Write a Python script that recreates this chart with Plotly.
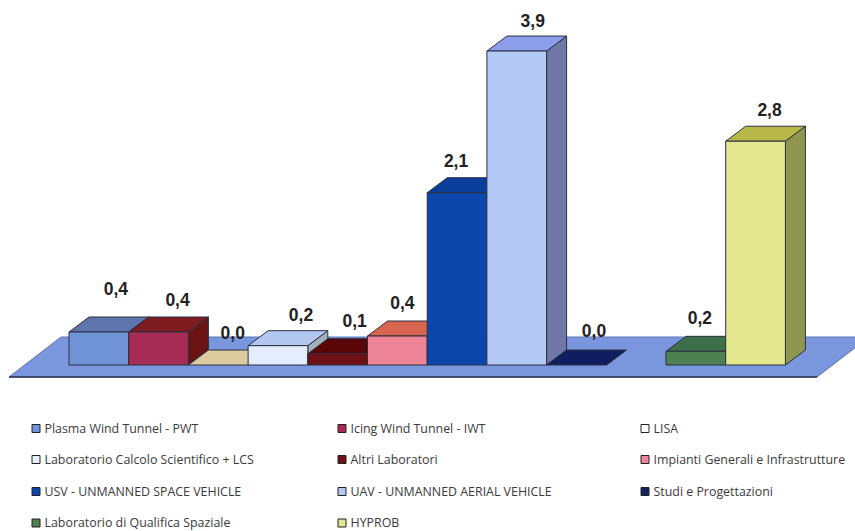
import plotly.graph_objects as go

# ---- data ----
categories = ["Plasma Wind Tunnel - PWT", "Icing Wind Tunnel - IWT", "LISA",
              "Laboratorio Calcolo Scientifico + LCS", "Altri Laboratori",
              "Impianti Generali e Infrastrutture", "USV - UNMANNED SPACE VEHICLE",
              "UAV - UNMANNED AERIAL VEHICLE", "Studi e Progettazioni",
              "Laboratorio di Qualifica Spaziale", "HYPROB"]
values = [0.41, 0.41, 0.0, 0.24, 0.14, 0.36, 2.14, 3.9, 0.0, 0.17, 2.78]
slots = [0, 1, 2, 3, 4, 5, 6, 7, 8, 10, 11]

# ---- styles ----
front_colors = ["#6F93D6", "#A62C55", "#E3D3A6", "#E3EDFB", "#700F16", "#EE8498",
                "#0B47AB", "#B5C9F6", "#14225F", "#4F8052", "#E3E88F"]
top_colors = ["#5F74AC", "#7E1B1E", "#DCCB9E", "#B2C6F0", "#5A0508", "#D8654F",
              "#0A3E9A", "#8C9EEA", "#101E60", "#3F6E4A", "#B8B848"]
side_colors = ["#4C5C88", "#6B1414", "#BDAE87", "#A0B2B8", "#4A0406", "#B5523F",
               "#083380", "#7078A8", "#0C174A", "#345A3C", "#8F9650"]
label_dx = [17, 19, 14.5, 23, 17, 5, -1, 16, 17.5, 4, 14]
label_dy = [41, 30, 30, 29, 31, 31, 30, 28, 32, 32, 30]
EDGE = "#2B3040"

# scale: data units <-> figure pixels
W, H = 855, 531
SLOT_PX, UNIT_PX = 59.7, 80.5
X0_PX, Y0_PX = 69, 365
DX, DY = 20 / SLOT_PX, 15 / UNIT_PX
px = lambda p: p / SLOT_PX
py = lambda p: p / UNIT_PX
x_range = [-X0_PX / SLOT_PX, (W - X0_PX) / SLOT_PX]
y_range = [-(H - Y0_PX) / UNIT_PX, Y0_PX / UNIT_PX]


def poly(fig, xs, ys, fill, line=EDGE, width=1):
    fig.add_trace(go.Scatter(x=xs + xs[:1], y=ys + ys[:1], mode="lines", fill="toself",
                             fillcolor=fill, line=dict(color=line, width=width),
                             hoverinfo="skip", showlegend=False))


fig = go.Figure()

# floor
floor_l, floor_r = px(9 - X0_PX), px(817 - X0_PX)
floor_y = py(-12)
floor_back = py(28)
poly(fig, [floor_l, floor_r, floor_r + px(52), floor_l + px(52)],
     [floor_y, floor_y, floor_back, floor_back], "#7A96DC", line="#5C74B4")
fig.add_trace(go.Scatter(x=[floor_l, floor_r], y=[floor_y, floor_y], mode="lines",
                         line=dict(color="#2B3550", width=1.6), hoverinfo="skip", showlegend=False))

# bars, painted left to right
for s, v, fc, tc, sc in zip(slots, values, front_colors, top_colors, side_colors):
    poly(fig, [s + 1, s + 1 + DX, s + 1 + DX, s + 1], [0, DY, v + DY, v], sc)
    poly(fig, [s, s + 1, s + 1 + DX, s + DX], [v, v, v + DY, v + DY], tc)
    if v > 0:
        poly(fig, [s, s + 1, s + 1, s], [0, 0, v, v], fc)

# value labels
fig.add_trace(go.Scatter(
    x=[s + 0.5 + px(d) for s, d in zip(slots, label_dx)],
    y=[v + py(d) for v, d in zip(values, label_dy)],
    mode="text", text=[f"{v:.1f}".replace(".", ",") for v in values],
    textposition="middle center",
    textfont=dict(family="Liberation Sans", size=17.5, color="#222222", weight=700),
    hoverinfo="skip", showlegend=False))

# legend, three columns by four rows
col_px = [36, 342, 645]
row_px = [428.5, 459.5, 491.5, 523]
for i, (name, fc) in enumerate(zip(categories, front_colors)):
    color = "#FFFFFF" if name == "LISA" else fc
    lx, ly = px(col_px[i % 3] - X0_PX), py(Y0_PX - row_px[i // 3])
    fig.add_trace(go.Scatter(
        x=[lx], y=[ly], mode="markers",
        marker=dict(symbol="square", size=8, color=color, line=dict(color="#222222", width=1)),
        hoverinfo="skip", showlegend=False, cliponaxis=False))
    fig.add_trace(go.Scatter(
        x=[lx + px(8.5)], y=[ly - py(1)], mode="text", text=[name], textposition="middle right",
        textfont=dict(family="Open Sans", size=12.4, color="#3A3A3A"),
        hoverinfo="skip", showlegend=False, cliponaxis=False))

fig.update_layout(width=W, height=H, margin=dict(l=0, r=0, t=0, b=0),
                  paper_bgcolor="white", plot_bgcolor="white", showlegend=False)
fig.update_xaxes(range=x_range, visible=False, fixedrange=True)
fig.update_yaxes(range=y_range, visible=False, fixedrange=True)
fig.write_html("out.html", config=dict(displayModeBar=False),
               post_script="document.body.style.margin='0';document.body.style.overflow='hidden';")
